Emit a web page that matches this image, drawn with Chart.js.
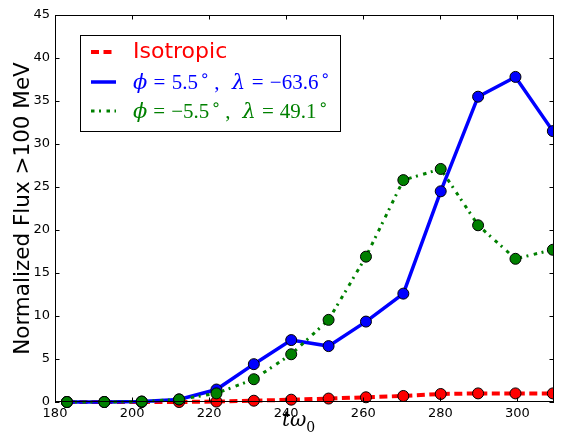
<!DOCTYPE html>
<html><head><meta charset="utf-8">
<script src="https://cdn.jsdelivr.net/npm/chart.js@4"></script>
<style>html,body{margin:0;padding:0;background:#fff}#wrap{width:562px;height:443px}</style>
</head><body><div id="wrap"><canvas id="c" width="562" height="443"></canvas></div>
<script>
// ---- data ----
const times     = [183.1,192.8,202.5,212.2,221.9,231.6,241.3,251.0,260.7,270.4,280.1,289.8,299.5,309.2];
const isotropic = [0,0,0,0,0.05,0.15,0.27,0.4,0.55,0.7,0.93,1.0,1.0,1.0];
const phiPos    = [0,0,0.05,0.3,1.45,4.4,7.2,6.5,9.35,12.6,24.5,35.5,37.8,31.5];
const phiNeg    = [0,0,0.05,0.3,1.0,2.65,5.55,9.55,16.9,25.8,27.1,20.55,16.65,17.7];
const xTicks    = [180,200,220,240,260,280,300];
const yTicks    = [0,5,10,15,20,25,30,35,40,45];
const xLimits   = [180,309.5];
const yLimits   = [0,45];
const seriesNames = ['Isotropic','phi=5.5, lambda=-63.6','phi=-5.5, lambda=49.1'];

const RED='#ff0000', BLUE='#0000ff', GREEN='#008000';
const pts = arr => arr.map((v,i)=>({x:times[i], y:v}));

function drawRich(ctx, parts, x, y, target){
  let nat=0, gw=0;
  for(const p of parts){ ctx.font=p.f; nat+=ctx.measureText(p.t).width; gw+=(p.gap||0); }
  const k = (target && gw>0) ? Math.max(0,(target-nat)/gw) : 1;
  for(const p of parts){
    ctx.font = p.f;
    ctx.fillText(p.t, x, y + (p.dy||0));
    x += ctx.measureText(p.t).width + (p.gap||0)*k;
  }
  return x;
}

const deco = {
  id:'deco',
  afterDraw(chart){
    const ctx = chart.ctx, a = chart.chartArea;
    const xs = chart.scales.x, ys = chart.scales.y;
    ctx.save();
    ctx.strokeStyle='#000'; ctx.lineWidth=1;
    ctx.strokeRect(a.left+0.5, a.top+0.5, a.right-a.left-1, a.bottom-a.top-1);
    const TL=4.5;
    ctx.beginPath();
    for(const t of xTicks){
      const px=Math.round(xs.getPixelForValue(t))+0.5;
      ctx.moveTo(px,a.bottom); ctx.lineTo(px,a.bottom-TL);
      ctx.moveTo(px,a.top); ctx.lineTo(px,a.top+TL);
    }
    for(const t of yTicks){
      const py=Math.round(ys.getPixelForValue(t))+0.5;
      ctx.moveTo(a.left,py); ctx.lineTo(a.left+TL,py);
      ctx.moveTo(a.right,py); ctx.lineTo(a.right-TL,py);
    }
    ctx.stroke();
    // y title
    ctx.save();
    ctx.translate(23, (a.top+a.bottom)/2);
    ctx.rotate(-Math.PI/2);
    ctx.fillStyle='#000'; ctx.textAlign='center'; ctx.textBaseline='middle';
    ctx.font='21.5px "DejaVu Sans"';
    ctx.fillText('Normalized Flux >100 MeV',0,0);
    ctx.restore();
    // x title  t ω_0
    ctx.fillStyle='#000'; ctx.textAlign='left'; ctx.textBaseline='alphabetic';
    const it='italic 20px "DejaVu Serif"';
    drawRich(ctx,[{t:'t',f:it},{t:'ω',f:it},{t:'0',f:'14px "DejaVu Serif"',dy:6}],282,426);
    // legend
    const L={x:80,y:35,w:260,h:96};
    ctx.fillStyle='#fff'; ctx.fillRect(L.x,L.y,L.w,L.h);
    ctx.strokeStyle='#000'; ctx.lineWidth=1;
    ctx.strokeRect(L.x+0.5,L.y+0.5,L.w,L.h);
    const rows=[52,82,111];
    const sx0=91, sx1=116;
    ctx.lineWidth=4; ctx.strokeStyle=RED; ctx.setLineDash([8,4.5]);
    ctx.beginPath(); ctx.moveTo(sx0,rows[0]); ctx.lineTo(sx1,rows[0]); ctx.stroke();
    ctx.lineWidth=3.5; ctx.strokeStyle=BLUE; ctx.setLineDash([]);
    ctx.beginPath(); ctx.moveTo(sx0,rows[1]); ctx.lineTo(sx1,rows[1]); ctx.stroke();
    ctx.lineWidth=3; ctx.strokeStyle=GREEN; ctx.setLineDash([3.5,4.5,2,5.5]);
    ctx.beginPath(); ctx.moveTo(sx0,rows[2]); ctx.lineTo(sx1,rows[2]); ctx.stroke();
    ctx.setLineDash([]);
    ctx.textBaseline='middle';
    ctx.fillStyle=RED; ctx.font='22px "DejaVu Sans"';
    ctx.fillText('Isotropic',133,rows[0]);
    ctx.textBaseline='alphabetic';
    const rm='21px "Liberation Serif"', gi='italic 21px "DejaVu Serif"', sm='16px "DejaVu Sans"';
    ctx.fillStyle=BLUE;
    drawRich(ctx,[{t:'ϕ',f:gi,gap:4},{t:'=',f:rm,gap:4},{t:'5.5',f:rm,gap:1},{t:'∘',f:sm,dy:-8,gap:3},
      {t:',',f:rm,gap:8},{t:'λ',f:gi,gap:4},{t:'=',f:rm,gap:4},{t:'−63.6',f:rm,gap:1},{t:'∘',f:sm,dy:-8}],133,rows[1]+7,197);
    ctx.fillStyle=GREEN;
    drawRich(ctx,[{t:'ϕ',f:gi,gap:4},{t:'=',f:rm,gap:4},{t:'−5.5',f:rm,gap:1},{t:'∘',f:sm,dy:-8,gap:3},
      {t:',',f:rm,gap:8},{t:'λ',f:gi,gap:4},{t:'=',f:rm,gap:4},{t:'49.1',f:rm,gap:1},{t:'∘',f:sm,dy:-8}],133,rows[2]+7,195);
    ctx.restore();
  }
};

const common = {showLine:true, pointRadius:5.5, pointBorderColor:'#000', pointBorderWidth:1,
  pointHoverRadius:5.5, clip:{left:10,top:10,right:0,bottom:10}, tension:0};

new Chart(document.getElementById('c'),{
  type:'scatter',
  data:{datasets:[
    Object.assign({label:seriesNames[2], data:pts(phiNeg), borderColor:GREEN, backgroundColor:GREEN,
      pointBackgroundColor:GREEN, borderWidth:3, borderDash:[3.5,4.5,2,5.5]},common),
    Object.assign({label:seriesNames[1], data:pts(phiPos), borderColor:BLUE, backgroundColor:BLUE,
      pointBackgroundColor:BLUE, borderWidth:3.5},common),
    Object.assign({label:seriesNames[0], data:pts(isotropic), borderColor:RED, backgroundColor:RED,
      pointBackgroundColor:RED, borderWidth:4, borderDash:[8,4.5]},common)
  ]},
  options:{
    responsive:false, animation:false, devicePixelRatio:1,
    layout:{padding:{top:15,right:8,left:0,bottom:0}},
    plugins:{legend:{display:false}, tooltip:{enabled:false}},
    scales:{
      x:{type:'linear', min:xLimits[0], max:xLimits[1],
        grid:{display:false, drawTicks:false}, border:{display:false},
        afterBuildTicks:s=>{s.ticks=xTicks.map(v=>({value:v}));},
        afterFit:s=>{s.height=41;},
        ticks:{color:'#000', font:{family:'DejaVu Sans', size:13}, padding:4, maxRotation:0, autoSkip:false}},
      y:{type:'linear', min:yLimits[0], max:yLimits[1],
        grid:{display:false, drawTicks:false}, border:{display:false},
        afterBuildTicks:s=>{s.ticks=yTicks.map(v=>({value:v}));},
        afterFit:s=>{s.width=55;},
        ticks:{color:'#000', font:{family:'DejaVu Sans', size:13}, padding:5, autoSkip:false}}
    }
  },
  plugins:[deco]
});
</script></body></html>
